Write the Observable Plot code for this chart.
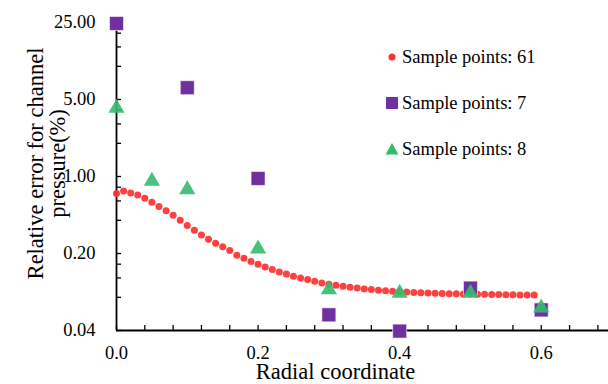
<!DOCTYPE html>
<html><head><meta charset="utf-8">
<script src="https://cdn.jsdelivr.net/npm/d3@7"></script>
<script src="https://cdn.jsdelivr.net/npm/@observablehq/plot@0.6"></script>
<style>
body{margin:0;background:#fff;}
#wrap{position:relative;width:608px;height:384px;font-family:"Liberation Serif","Times New Roman",serif;color:#000;}
#legend{position:absolute;left:384px;top:45px;font-size:18.5px;line-height:24px;}
#legend .row{display:flex;align-items:center;height:24px;margin-bottom:22px;}
#legend svg{width:16px;height:16px;margin-right:2px;}
</style></head><body><div id="wrap"><div id="legend"></div></div>
<script>
// Sample points: 61 (red dots)
const radial61 = [0.00,0.01,0.02,0.03,0.04,0.05,0.06,0.07,0.08,0.09,0.10,0.11,0.12,0.13,0.14,0.15,0.16,0.17,0.18,0.19,
  0.20,0.21,0.22,0.23,0.24,0.25,0.26,0.27,0.28,0.29,0.30,0.31,0.32,0.33,0.34,0.35,0.36,0.37,0.38,0.39,
  0.40,0.41,0.42,0.43,0.44,0.45,0.46,0.47,0.48,0.49,0.50,0.51,0.52,0.53,0.54,0.55,0.56,0.57,0.58,0.59];
const error61 = [0.70,0.74,0.71,0.68,0.635,0.585,0.535,0.49,0.445,0.40,0.36,0.325,0.295,0.27,0.248,0.23,0.213,0.193,0.181,0.169,
  0.160,0.151,0.143,0.136,0.130,0.124,0.120,0.116,0.112,0.108,0.105,0.103,0.101,0.099,0.097,0.095,0.094,0.093,0.092,0.091,
  0.090,0.0893,0.0886,0.0880,0.0875,0.0872,0.0868,0.0864,0.0862,0.0860,0.0857,0.0855,0.0852,0.0850,0.0848,0.0846,0.0844,0.0842,0.0840,0.0838];
// Sample points: 7 (purple squares)
const radial7 = [0, 0.1, 0.2, 0.3, 0.4, 0.5, 0.6];
const error7 = [24.5, 6.4, 0.96, 0.0555, 0.0395, 0.097, 0.0615];
// Sample points: 8 (green triangles)
const radial8 = [0, 0.05, 0.1, 0.2, 0.3, 0.4, 0.5, 0.6];
const error8 = [4.0, 0.87, 0.73, 0.212, 0.090, 0.084, 0.084, 0.0615];

const legendLabels = ["Sample points: 61", "Sample points: 7", "Sample points: 8"];
const xLabelTicks = [0, 0.2, 0.4, 0.6];
const xMinorTicks = [0,0.04,0.08,0.12,0.16,0.2,0.24,0.28,0.32,0.36,0.4,0.44,0.48,0.52,0.56,0.6,0.64,0.68];
const yLabelTicks = [0.04, 0.2, 1, 5, 25];
const yMinorTicks = [0.04,0.08,0.12,0.16,0.2,0.4,0.6,0.8,1,2,3,4,5,10,15,20,25];
const xTitle = "Radial coordinate";
const yTitle = "Relative error for channel\npressure(%)";

const red = "#ff3030", purple = "#7030a0", green = "#33bb6e";

const d61 = radial61.map((x, i) => ({x, y: error61[i]}));
const d7 = radial7.map((x, i) => ({x, y: error7[i]}));
const d8 = radial8.map((x, i) => ({x, y: error8[i]}));

const chart = Plot.plot({
  width: 608, height: 384,
  marginLeft: 116, marginRight: 0, marginTop: 22, marginBottom: 54,
  style: {fontFamily: "Liberation Serif, 'Times New Roman', serif", fontSize: "18.5px", color: "#000", background: "#fff", overflow: "visible"},
  x: {domain: [0, 0.695]},
  y: {type: "log", base: 5, domain: [0.04, 25]},
  marks: [
    Plot.axisX(xMinorTicks, {tickSize: -5, text: null, label: null, strokeWidth: 1.3}),
    Plot.axisX(xLabelTicks, {tickSize: 0, tickPadding: 15, tickFormat: ".1f", label: null, fontSize: 18.5}),
    Plot.axisY(yMinorTicks, {tickSize: -5, text: null, label: null, strokeWidth: 1.3}),
    Plot.axisY(yLabelTicks, {tickSize: 0, tickPadding: 21, tickFormat: ".2f", label: null, fontSize: 18.5}),
    Plot.ruleX([0], {stroke: "#000", strokeWidth: 1.8}),
    Plot.ruleY([0.04], {stroke: "#000", strokeWidth: 1.8}),
    Plot.dot(d61, {x: "x", y: "y", r: 3.5, fill: red, fillOpacity: 0.92, stroke: "none"}),
    Plot.dot(d7, {x: "x", y: "y", symbol: "square", r: 7.9, fill: purple, stroke: "#fff", strokeWidth: 0.6}),
    Plot.dot(d8, {x: "x", y: "y", symbol: "triangle", r: 6, dy: -2, fill: green, fillOpacity: 0.9, stroke: "none"}),
    Plot.text([xTitle], {frameAnchor: "bottom", dx: -27, dy: 41.5, fontSize: 22.5, lineAnchor: "middle"}),
    Plot.text([yTitle], {frameAnchor: "left", textAnchor: "middle", rotate: -90, dx: -70, dy: -13, fontSize: 22.5, lineAnchor: "middle", lineHeight: 0.98})
  ]
});
document.getElementById("wrap").prepend(chart);

const sym = [
  `<svg viewBox="-8 -8 16 16"><circle r="3.5" fill="${red}"/></svg>`,
  `<svg viewBox="-8 -8 16 16"><rect x="-6" y="-6" width="12" height="12" fill="${purple}"/></svg>`,
  `<svg viewBox="-8 -8 16 16"><path d="M0,-6L6.5,5.5L-6.5,5.5Z" fill="${green}"/></svg>`
];
document.getElementById("legend").innerHTML = legendLabels.map((t, i) =>
  `<div class="row">${sym[i]}<span>${t}</span></div>`).join("");
</script>
</body></html>
